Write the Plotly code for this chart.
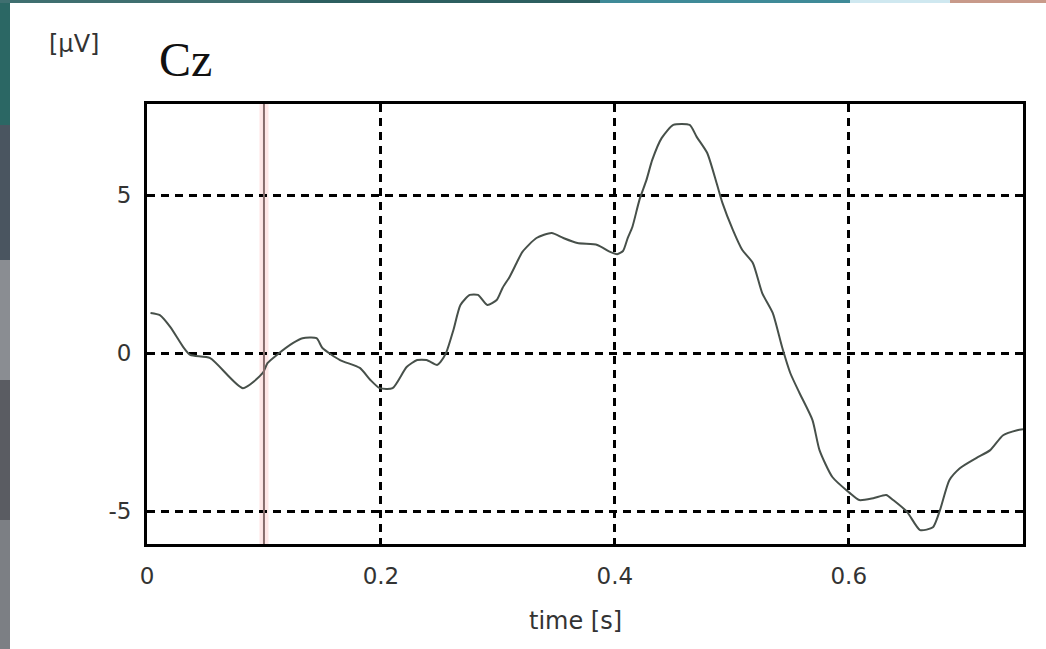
import plotly.graph_objects as go

# ---- data ----
time_s = [0.003, 0.011, 0.020, 0.031, 0.037, 0.054, 0.082, 0.099, 0.103, 0.111,
          0.125, 0.133, 0.145, 0.150, 0.165, 0.182, 0.191, 0.199, 0.210, 0.222,
          0.231, 0.239, 0.248, 0.251, 0.256, 0.262, 0.268, 0.276, 0.283, 0.291,
          0.299, 0.304, 0.310, 0.316, 0.321, 0.333, 0.346, 0.356, 0.368, 0.385,
          0.396, 0.402, 0.407, 0.411, 0.415, 0.421, 0.427, 0.432, 0.440, 0.450,
          0.464, 0.470, 0.479, 0.487, 0.492, 0.501, 0.509, 0.518, 0.526, 0.535,
          0.543, 0.550, 0.558, 0.569, 0.575, 0.586, 0.601, 0.609, 0.621, 0.632,
          0.638, 0.650, 0.661, 0.672, 0.678, 0.686, 0.695, 0.709, 0.721, 0.732,
          0.744, 0.749]
cz_uv = [1.27, 1.20, 0.82, 0.19, -0.06, -0.16, -1.11, -0.63, -0.32, -0.06,
         0.32, 0.47, 0.47, 0.16, -0.22, -0.47, -0.85, -1.11, -1.11, -0.44,
         -0.22, -0.22, -0.38, -0.28, 0.03, 0.73, 1.52, 1.84, 1.84, 1.52,
         1.68, 2.06, 2.41, 2.85, 3.20, 3.64, 3.80, 3.64, 3.48, 3.42,
         3.20, 3.13, 3.23, 3.64, 3.99, 4.84, 5.47, 6.11, 6.80, 7.22,
         7.22, 6.84, 6.33, 5.38, 4.75, 3.89, 3.26, 2.85, 1.90, 1.27,
         0.19, -0.63, -1.27, -2.12, -3.07, -3.92, -4.43, -4.65, -4.59, -4.49,
         -4.65, -5.03, -5.60, -5.51, -4.97, -4.02, -3.64, -3.32, -3.07, -2.60,
         -2.44, -2.41]
marker_time = 0.1
x_tick_vals = [0, 0.2, 0.4, 0.6]
x_tick_text = ["0", "0.2", "0.4", "0.6"]
y_tick_vals = [-5, 0, 5]
y_tick_text = ["-5", "0", "5"]
channel = "Cz"
unit_label = "[μV]"
x_title = "time [s]"

W, H = 1046, 649
ML, MR, MT, MB = 147, 23, 104, 105
PW, PH = W - ML - MR, H - MT - MB


def px(xp):
    return (xp - ML) / PW


def py(yp):
    return (H - MB - yp) / PH


fig = go.Figure()

# pink glow of marker line
fig.add_shape(type="line", xref="x", yref="paper", x0=marker_time, x1=marker_time,
              y0=0, y1=1, line=dict(color="rgba(255,195,195,0.4)", width=9), layer="below")

fig.add_trace(go.Scatter(x=time_s, y=cz_uv, mode="lines", line_shape="spline",
                         line=dict(color="#47504a", width=2, smoothing=0.6), showlegend=False,
                         hoverinfo="skip"))

fig.add_shape(type="line", xref="x", yref="paper", x0=marker_time, x1=marker_time,
              y0=0, y1=1, line=dict(color="rgb(135,108,108)", width=2), layer="above")

# background strips (photo edge)
bg_shapes = [
    (0, 10, 0, 125, "#2b6764"),
    (0, 10, 125, 260, "#4a5560"),
    (0, 10, 260, 380, "#8a8d92"),
    (0, 10, 380, 520, "#5a5c62"),
    (0, 10, 520, 649, "#7c7f84"),
    (0, 300, 0, 3, "#3f6f70"),
    (300, 600, 0, 3, "#2d5f60"),
    (600, 850, 0, 3, "#3f8a98"),
    (850, 950, 0, 3, "#cfe8f0"),
    (950, 1046, 0, 3, "#c89a8a"),
]
for x0, x1, y0, y1, c in bg_shapes:
    fig.add_shape(type="rect", xref="paper", yref="paper",
                  x0=px(x0), x1=px(x1), y0=py(y1), y1=py(y0),
                  line=dict(width=0), fillcolor=c, layer="below")

fig.add_annotation(text=unit_label, xref="paper", yref="paper", x=px(74), y=py(44),
                   showarrow=False, font=dict(family="DejaVu Sans", size=24, color="#333"),
                   xanchor="center", yanchor="middle")
fig.add_annotation(text=channel, xref="paper", yref="paper", x=px(157), y=py(60),
                   showarrow=False, font=dict(family="Liberation Serif", size=48, color="#111"),
                   xanchor="left", yanchor="middle")
fig.add_annotation(text=x_title, xref="paper", yref="paper", x=px(575), y=py(621),
                   showarrow=False, font=dict(family="DejaVu Sans", size=24, color="#333"),
                   xanchor="center", yanchor="middle")

tick_font = dict(family="DejaVu Sans", size=23, color="#333")
fig.update_layout(
    width=W, height=H,
    margin=dict(l=ML, r=MR, t=MT, b=MB),
    paper_bgcolor="white", plot_bgcolor="white",
    xaxis=dict(range=[0, 0.749], tickvals=x_tick_vals, ticktext=x_tick_text,
               showgrid=True, gridcolor="black", gridwidth=2.5, griddash="8px,6px",
               zeroline=False, showline=True, linecolor="black", linewidth=3, mirror=True,
               ticks="outside", ticklen=9, tickcolor="rgba(0,0,0,0)",
               tickfont=tick_font),
    yaxis=dict(range=[-6.04, 7.88], tickvals=y_tick_vals, ticktext=y_tick_text,
               showgrid=True, gridcolor="black", gridwidth=2.5, griddash="8px,6px",
               zeroline=False, showline=True, linecolor="black", linewidth=3, mirror=True,
               ticks="outside", ticklen=8, tickcolor="rgba(0,0,0,0)",
               tickfont=tick_font),
)

fig.write_html("out.html")
